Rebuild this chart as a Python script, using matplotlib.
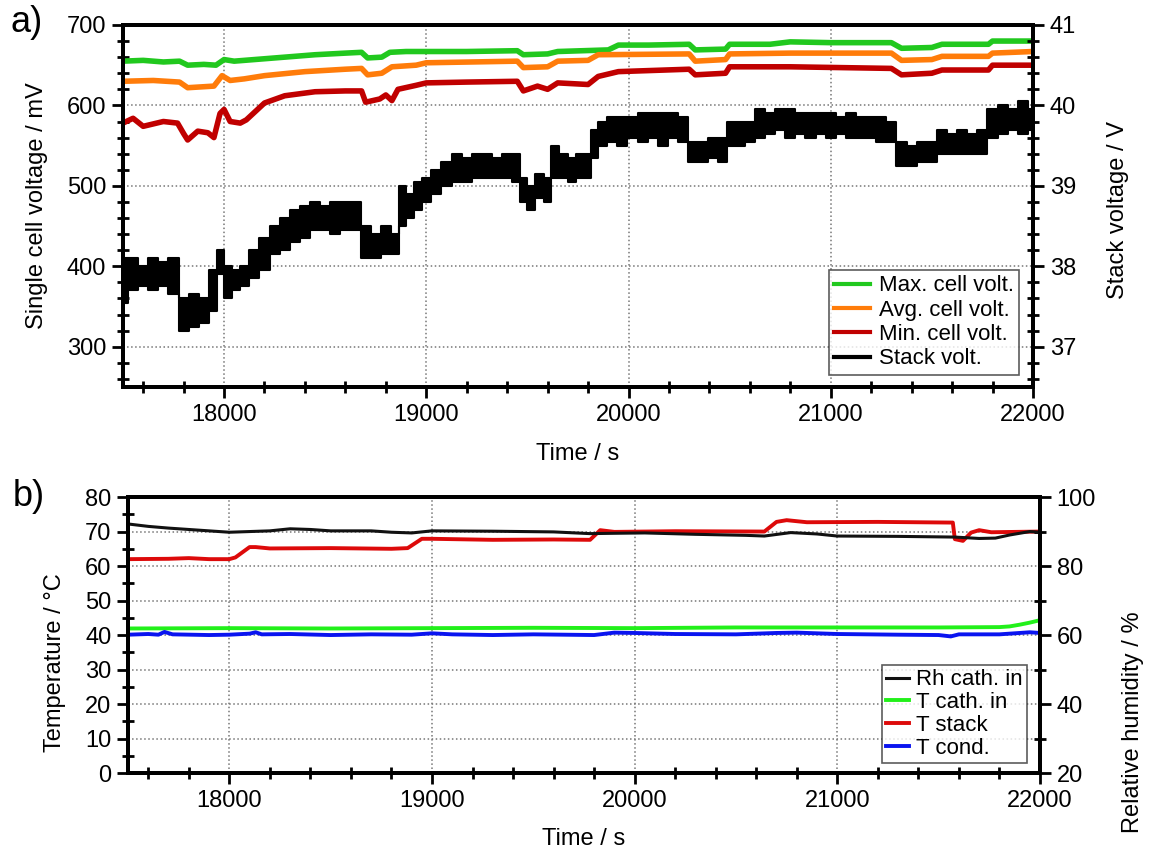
import numpy as np
import matplotlib.pyplot as plt
from matplotlib.ticker import MultipleLocator

plt.rcParams['font.family'] = ['Liberation Sans', 'DejaVu Sans']

# ---- panel a) single cell voltages (mV) ----
t_max = [17500, 17600, 17700, 17780, 17820, 17900, 17960, 18000, 18050, 18150, 18300, 18450,
         18600, 18680, 18710, 18780, 18820, 18900, 19000, 19200, 19450, 19480, 19600, 19650,
         19900, 19950, 20100, 20300, 20330, 20480, 20500, 20700, 20800, 21000, 21300, 21350,
         21500, 21550, 21780, 21800, 22000]
v_max = [655, 656, 654, 655, 650, 651, 650, 657, 655, 657, 660, 663,
         665, 666, 659, 660, 666, 667, 667, 667, 668, 663, 664, 667,
         669, 675, 675, 676, 669, 670, 676, 676, 679, 678, 678, 671,
         672, 676, 676, 680, 680]

t_avg = [17500, 17650, 17780, 17820, 17950, 17990, 18030, 18100, 18200, 18400, 18600, 18680,
         18710, 18780, 18830, 18950, 19000, 19450, 19480, 19600, 19650, 19800, 19850, 20300,
         20330, 20480, 20500, 20800, 21300, 21350, 21500, 21550, 21780, 21800, 22000]
v_avg = [630, 631, 629, 622, 624, 637, 631, 633, 637, 642, 645, 646,
         638, 640, 648, 650, 653, 655, 647, 648, 655, 656, 663, 664,
         655, 657, 664, 665, 665, 656, 657, 661, 661, 665, 667]

t_min = [17500, 17550, 17600, 17700, 17770, 17800, 17820, 17870, 17920, 17950, 17980, 18000,
         18030, 18080, 18110, 18200, 18300, 18450, 18600, 18680, 18700, 18770, 18800, 18830,
         18860, 18950, 19000, 19200, 19450, 19480, 19550, 19600, 19650, 19800, 19850, 19950,
         20300, 20330, 20480, 20500, 20800, 21300, 21350, 21500, 21550, 21780, 21800, 22000]
v_min = [578, 584, 574, 580, 578, 565, 557, 568, 566, 560, 590, 595,
         580, 578, 582, 603, 612, 617, 618, 618, 604, 608, 613, 606,
         620, 625, 628, 629, 630, 618, 624, 620, 628, 626, 636, 642,
         645, 638, 640, 648, 648, 646, 638, 640, 644, 644, 650, 650]

# stack voltage (V), lower / upper edge of the noisy band
t_stack = [17500, 17550, 17600, 17650, 17700, 17750, 17800, 17850, 17900, 17950, 17980, 18020,
           18060, 18100, 18150, 18200, 18250, 18300, 18350, 18400, 18450, 18500, 18550, 18600,
           18650, 18700, 18750, 18800, 18850, 18880, 18920, 18960, 19000, 19050, 19100, 19150,
           19200, 19250, 19300, 19350, 19400, 19450, 19480, 19520, 19560, 19600, 19630, 19680,
           19720, 19760, 19800, 19830, 19870, 19920, 19970, 20020, 20070, 20120, 20170, 20220,
           20270, 20320, 20370, 20420, 20470, 20500, 20550, 20600, 20650, 20700, 20750, 20800,
           20850, 20900, 20950, 21000, 21050, 21100, 21150, 21200, 21250, 21300, 21350, 21400,
           21450, 21500, 21550, 21600, 21650, 21700, 21750, 21800, 21850, 21900, 21950, 22000]
stack_lo = [37.55, 37.7, 37.75, 37.7, 37.75, 37.65, 37.2, 37.25, 37.3, 37.45, 37.9, 37.6,
            37.7, 37.75, 37.85, 37.95, 38.15, 38.2, 38.3, 38.35, 38.45, 38.45, 38.4, 38.45,
            38.45, 38.1, 38.1, 38.15, 38.15, 38.5, 38.6, 38.7, 38.8, 38.9, 39.0, 39.05,
            39.05, 39.1, 39.1, 39.1, 39.1, 39.05, 38.8, 38.7, 38.85, 38.8, 39.1, 39.1,
            39.05, 39.1, 39.1, 39.35, 39.5, 39.55, 39.5, 39.6, 39.55, 39.6, 39.5, 39.6,
            39.55, 39.3, 39.3, 39.35, 39.3, 39.5, 39.5, 39.55, 39.6, 39.65, 39.7, 39.6,
            39.65, 39.6, 39.65, 39.6, 39.65, 39.6, 39.6, 39.6, 39.55, 39.55, 39.25, 39.25,
            39.3, 39.3, 39.4, 39.4, 39.4, 39.4, 39.4, 39.6, 39.65, 39.7, 39.65, 39.7]
stack_hi = [38.1, 38.1, 38.0, 38.1, 38.05, 38.1, 37.6, 37.65, 37.6, 37.95, 38.2, 38.0,
            37.95, 38.0, 38.2, 38.35, 38.5, 38.6, 38.7, 38.75, 38.8, 38.75, 38.8, 38.8,
            38.8, 38.5, 38.4, 38.5, 38.4, 39.0, 38.9, 39.05, 39.1, 39.2, 39.3, 39.4,
            39.35, 39.4, 39.4, 39.35, 39.4, 39.4, 39.1, 39.0, 39.15, 39.1, 39.5, 39.4,
            39.35, 39.4, 39.4, 39.7, 39.8, 39.85, 39.85, 39.85, 39.9, 39.9, 39.9, 39.9,
            39.85, 39.55, 39.55, 39.6, 39.6, 39.8, 39.8, 39.8, 39.95, 39.9, 39.95, 39.95,
            39.9, 39.9, 39.9, 39.9, 39.85, 39.9, 39.85, 39.85, 39.85, 39.8, 39.55, 39.5,
            39.55, 39.55, 39.7, 39.65, 39.7, 39.65, 39.7, 39.95, 40.0, 39.95, 40.05, 39.95]

# ---- panel b) temperatures (degC) and humidity (%) ----
t_tstack = [17500, 17700, 17800, 17900, 18000, 18030, 18100, 18130, 18200, 18500, 18800, 18880,
            18950, 19000, 19300, 19600, 19780, 19830, 19900, 20200, 20640, 20700, 20750, 20850,
            21200, 21570, 21580, 21620, 21660, 21700, 21760, 22000]
T_stack = [62.0, 62.1, 62.3, 62.0, 62.0, 62.5, 65.5, 65.5, 65.1, 65.2, 65.0, 65.2,
           67.9, 67.9, 67.6, 67.7, 67.6, 70.4, 69.9, 70.1, 70.0, 72.8, 73.3, 72.7,
           72.8, 72.6, 67.8, 67.3, 69.7, 70.4, 69.8, 70.0]

t_rh = [17500, 17600, 17700, 17850, 18000, 18100, 18200, 18300, 18400, 18500, 18700, 18800,
        18900, 19000, 19300, 19600, 19780, 19900, 20050, 20300, 20550, 20640, 20770, 20900,
        21000, 21300, 21580, 21700, 21780, 21850, 21950, 22000]
rh_cath = [92.2, 91.5, 91.0, 90.4, 89.8, 90.0, 90.2, 90.8, 90.6, 90.2, 90.2, 89.8,
           89.6, 90.2, 90.1, 89.9, 89.4, 89.5, 89.6, 89.2, 88.9, 88.7, 89.7, 89.3,
           88.7, 88.6, 88.4, 88.0, 88.1, 89.0, 90.0, 89.8]

t_tcath = [17500, 18000, 18500, 19000, 19500, 20000, 20500, 21000, 21500, 21800, 21850, 21900,
           21950, 22000]
T_cath = [41.9, 42.0, 41.9, 42.0, 42.1, 42.0, 42.2, 42.2, 42.2, 42.3, 42.5, 43.0, 43.6, 44.3]

t_cond = [17500, 17600, 17650, 17680, 17720, 17900, 18000, 18100, 18130, 18160, 18300, 18500,
          18700, 18900, 19000, 19100, 19300, 19500, 19800, 19900, 20000, 20200, 20500, 20700,
          20800, 21000, 21300, 21500, 21560, 21600, 21800, 21950, 22000]
T_cond = [40.1, 40.3, 40.1, 40.9, 40.2, 40.0, 40.1, 40.4, 40.8, 40.2, 40.3, 40.0,
          40.2, 40.1, 40.5, 40.2, 40.0, 40.2, 40.0, 40.7, 40.6, 40.3, 40.2, 40.6,
          40.7, 40.3, 40.1, 40.0, 39.6, 40.2, 40.2, 40.8, 40.6]

FS = 17
LFS = 16
SPINE = 2.8


def style(ax):
    for s in ax.spines.values():
        s.set_linewidth(SPINE)
    ax.tick_params(which='major', direction='out', length=8, width=2, labelsize=FS, pad=4)
    ax.tick_params(which='minor', direction='inout', length=9, width=2)


fig = plt.figure(figsize=(11.49, 8.52), dpi=100)

# ---------------- a) ----------------
ax1 = fig.add_axes([0.1070, 0.5458, 0.7920, 0.4249])
ax1r = ax1.twinx()

h1, = ax1.plot(t_max, v_max, color='#21c81e', lw=4, label='Max. cell volt.')
h2, = ax1.plot(t_avg, v_avg, color='#ff7c0a', lw=4, label='Avg. cell volt.')
h3, = ax1.plot(t_min, v_min, color='#c00000', lw=4, label='Min. cell volt.')
ax1r.fill_between(t_stack, stack_lo, stack_hi, step='mid', color='black', lw=1.5, edgecolor='black')
h4, = ax1r.plot([], [], color='black', lw=4, label='Stack volt.')

ax1.set_xlim(17500, 22000)
ax1.set_ylim(250, 700)
ax1r.set_ylim(36.5, 41)
ax1.xaxis.set_major_locator(MultipleLocator(1000))
ax1.xaxis.set_minor_locator(MultipleLocator(200))
ax1.yaxis.set_major_locator(MultipleLocator(100))
ax1.yaxis.set_minor_locator(MultipleLocator(20))
ax1r.yaxis.set_major_locator(MultipleLocator(1))
ax1r.yaxis.set_minor_locator(MultipleLocator(0.2))
ax1.grid(True, which='major', linestyle=':', color='#777777', lw=1.1)
style(ax1)
style(ax1r)

ax1.set_xlabel('Time / s', fontsize=FS)
ax1.set_ylabel('Single cell voltage / mV', fontsize=FS)
ax1r.set_ylabel('Stack voltage / V', fontsize=FS)
ax1.xaxis.set_label_coords(0.5, -0.155)
ax1.yaxis.set_label_coords(-0.0824, 0.5)
ax1r.yaxis.set_label_coords(1.081, 0.49)

leg1 = ax1r.legend(handles=[h1, h2, h3, h4], loc='lower right', bbox_to_anchor=(0.985, 0.033),
                   borderaxespad=0, fontsize=LFS, frameon=True, fancybox=False,
                   handlelength=1.6, handletextpad=0.4, labelspacing=0.15, borderpad=0.25)
leg1.get_frame().set_edgecolor('#333333')
leg1.get_frame().set_linewidth(1.2)
for ln in leg1.get_lines():
    ln.set_linewidth(3)

# ---------------- b) ----------------
ax2 = fig.add_axes([0.1114, 0.0927, 0.7937, 0.3239])
ax2r = ax2.twinx()

g2, = ax2.plot(t_tcath, T_cath, color='#22f01a', lw=2.8, label='T cath. in')
g3, = ax2.plot(t_tstack, T_stack, color='#dd0a0a', lw=2.8, label='T stack')
g4, = ax2.plot(t_cond, T_cond, color='#0a14f0', lw=2.8, label='T cond.')
g1, = ax2r.plot(t_rh, rh_cath, color='#111111', lw=2.2, label='Rh cath. in')

ax2.set_xlim(17500, 22000)
ax2.set_ylim(0, 80)
ax2r.set_ylim(20, 100)
ax2.xaxis.set_major_locator(MultipleLocator(1000))
ax2.xaxis.set_minor_locator(MultipleLocator(200))
ax2.yaxis.set_major_locator(MultipleLocator(10))
ax2.yaxis.set_minor_locator(MultipleLocator(5))
ax2r.yaxis.set_major_locator(MultipleLocator(20))
ax2r.yaxis.set_minor_locator(MultipleLocator(10))
ax2.grid(True, which='major', linestyle=':', color='#777777', lw=1.1)
style(ax2)
style(ax2r)

ax2.set_xlabel('Time / s', fontsize=FS)
ax2.set_ylabel('Temperature / \u00b0C', fontsize=FS)
ax2r.set_ylabel('Relative humidity / %', fontsize=FS)
ax2.xaxis.set_label_coords(0.5, -0.199)
ax2.yaxis.set_label_coords(-0.068, 0.4)
ax2r.yaxis.set_label_coords(1.090, 0.185)

leg2 = ax2r.legend(handles=[g1, g2, g3, g4], loc='lower right', bbox_to_anchor=(0.986, 0.036),
                   borderaxespad=0, fontsize=LFS, frameon=True, fancybox=False,
                   handlelength=1.05, handletextpad=0.3, labelspacing=0.08, borderpad=0.2)
leg2.get_frame().set_edgecolor('#333333')
leg2.get_frame().set_linewidth(1.2)

fig.text(10 / 1149, 1 - 22 / 852, 'a)', fontsize=26, va='center', ha='left')
fig.text(13 / 1149, 1 - 496 / 852, 'b)', fontsize=26, va='center', ha='left')

fig.savefig('out.png', dpi=100)
